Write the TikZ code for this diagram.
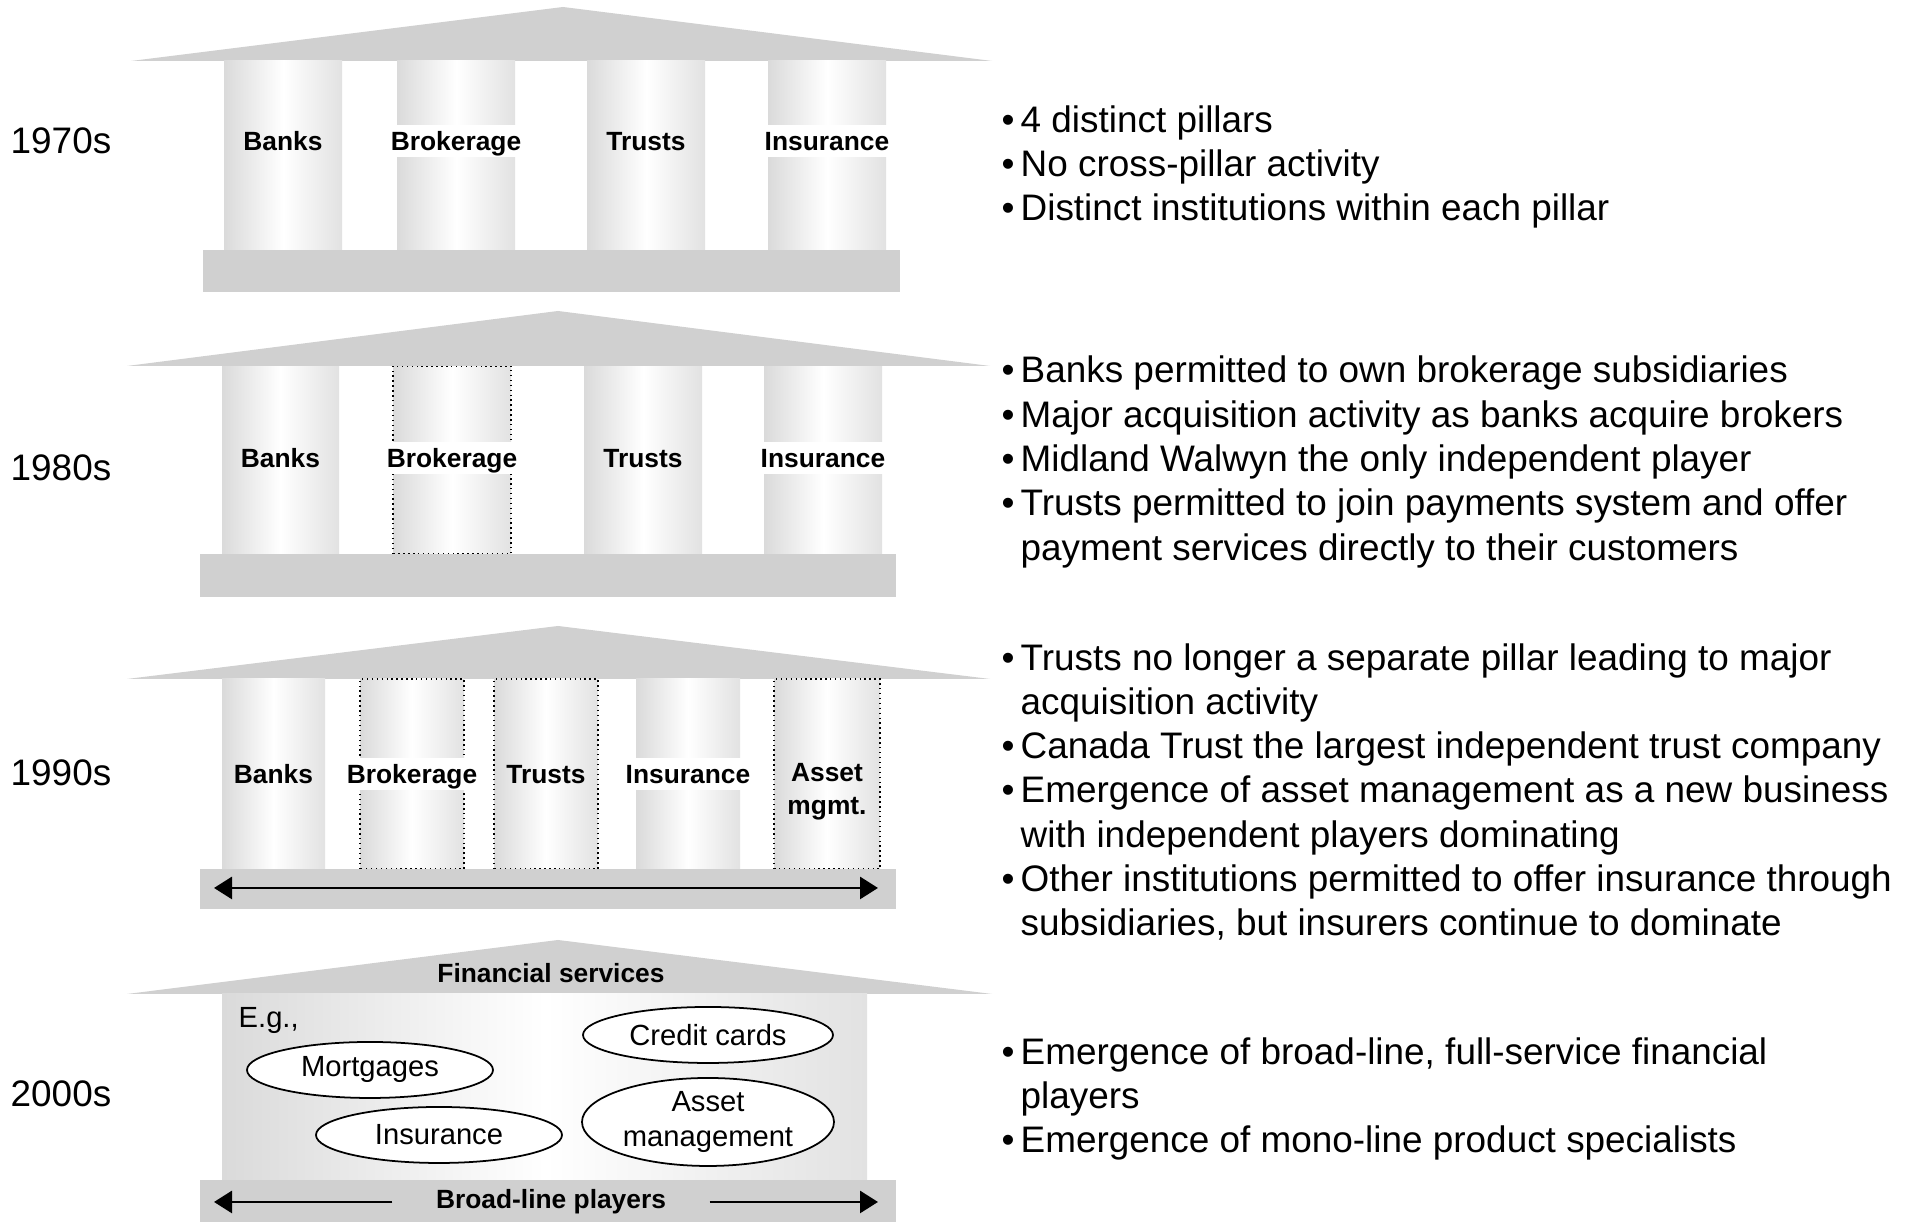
\documentclass[tikz,border=0pt]{standalone}
\usepackage{fontspec}
\setmainfont{Liberation Sans}
\usetikzlibrary{shapes.geometric,arrows.meta}
\definecolor{roofgray}{RGB}{208,208,208}
\definecolor{pilleft}{RGB}{218,218,218}
\definecolor{pilright}{RGB}{226,226,226}
\newcommand{\bitem}{\makebox[0.19cm][l]{•}}
\newcommand{\bcont}{\hspace*{0.19cm}}

\begin{document}
\begin{tikzpicture}[
  >={Triangle[length=0.18cm,width=0.22cm]},
  roof/.style={fill=roofgray},
  plinth/.style={fill=roofgray},
  pillar/.style={left color=pilleft, right color=pilright, middle color=white},
  newpillar/.style={pillar, draw=black, densely dotted, line width=0.4pt},
  lbl/.style={font=\fontsize{7.5}{9.4}\selectfont\bfseries, inner sep=0pt, align=center},
  plbl/.style={lbl, text height=1.9mm, text depth=0pt},
  plblw/.style={plbl, fill=white, minimum height=0.32cm},
  era/.style={anchor=west, inner sep=0pt, font=\fontsize{10.5}{12.6}\selectfont},
  notes/.style={anchor=west, inner sep=0pt, align=left, font=\fontsize{10.5}{12.6}\selectfont},
  prod/.style={ellipse, draw, fill=white, line width=0.5pt, inner sep=0pt, align=center, font=\fontsize{8.3}{10.2}\selectfont},
  span/.style={line width=0.8pt}
]
\useasboundingbox (0,0) rectangle (19.21,12.22);

% 1970s: four pillars
\fill[roof] (1.31,11.61) -- (5.63,12.15) -- (9.92,11.61) -- cycle;
\path[pillar] (2.24,9.72) rectangle (3.42,11.61);
\path[pillar] (3.97,9.72) rectangle (5.15,11.61);
\path[pillar] (5.87,9.72) rectangle (7.05,11.61);
\path[pillar] (7.68,9.72) rectangle (8.86,11.61);
\fill[plinth] (2.03,9.30) rectangle (9.00,9.72);
\node[plbl] (banks70) at (2.83,10.81) {Banks};
\node[plblw] (brok70) at (4.56,10.81) {Brokerage};
\node[plbl] (trusts70) at (6.46,10.81) {Trusts};
\node[plblw] (ins70) at (8.27,10.81) {Insurance};
\node[era] (yr70) at (0.10,10.81) {1970s};
\node[notes] (notes70) at (10.01,10.55) {\bitem 4 distinct pillars\\
  \bitem No cross-pillar activity\\
  \bitem Distinct institutions within each pillar};

% 1980s: brokerage opened to banks
\path[pillar] (2.22,6.68) rectangle (3.39,8.56);
\path[newpillar] (3.93,6.68) rectangle (5.11,8.56);
\path[pillar] (5.84,6.68) rectangle (7.02,8.56);
\path[pillar] (7.64,6.68) rectangle (8.82,8.56);
\fill[roof] (1.27,8.56) -- (5.58,9.11) -- (9.90,8.56) -- cycle;
\fill[plinth] (2.00,6.25) rectangle (8.96,6.68);
\node[plbl] (banks80) at (2.805,7.64) {Banks};
\node[plblw] (brok80) at (4.52,7.64) {Brokerage};
\node[plbl] (trusts80) at (6.43,7.64) {Trusts};
\node[plblw] (ins80) at (8.23,7.64) {Insurance};
\node[era] (yr80) at (0.10,7.54) {1980s};
\node[notes] (notes80) at (10.01,7.60) {\bitem Banks permitted to own brokerage subsidiaries\\
  \bitem Major acquisition activity as banks acquire brokers\\
  \bitem Midland Walwyn the only independent player\\
  \bitem Trusts permitted to join payments system and offer\\
  \bcont payment services directly to their customers};

% 1990s: five pillars on a shared base
\fill[roof] (1.27,5.43) -- (5.58,5.96) -- (9.90,5.43) -- cycle;
\path[pillar] (2.22,3.53) rectangle (3.25,5.43);
\path[newpillar] (3.60,3.53) rectangle (4.64,5.43);
\path[newpillar] (4.94,3.53) rectangle (5.98,5.43);
\path[pillar] (6.36,3.53) rectangle (7.40,5.43);
\path[newpillar] (7.74,3.53) rectangle (8.80,5.43);
\fill[plinth] (2.00,3.13) rectangle (8.96,3.53);
\node[plbl] (banks90) at (2.735,4.48) {Banks};
\node[plblw] (brok90) at (4.12,4.48) {Brokerage};
\node[plbl] (trusts90) at (5.46,4.48) {Trusts};
\node[plblw] (ins90) at (6.88,4.48) {Insurance};
\node[lbl] (asset90) at (8.27,4.30) {Asset\\mgmt.};
\coordinate (l90) at (2.14,3.34);
\coordinate (r90) at (8.78,3.34);
\draw[span,<->] (l90) -- (r90);
\node[era] (yr90) at (0.10,4.49) {1990s};
\node[notes] (notes90) at (10.01,4.30) {\bitem Trusts no longer a separate pillar leading to major\\
  \bcont acquisition activity\\
  \bitem Canada Trust the largest independent trust company\\
  \bitem Emergence of asset management as a new business\\
  \bcont with independent players dominating\\
  \bitem Other institutions permitted to offer insurance through\\
  \bcont subsidiaries, but insurers continue to dominate};

% 2000s: one house of financial services
\fill[roof] (1.27,2.28) -- (5.58,2.82) -- (9.92,2.28) -- cycle;
\path[pillar] (2.22,0.42) rectangle (8.67,2.28);
\fill[plinth] (2.00,0) rectangle (8.96,0.42);
\node[lbl] (fin00) at (5.51,2.49) {Financial services};
\node[anchor=west, inner sep=0pt, font=\fontsize{8.3}{10.2}\selectfont] (eg00) at (2.38,2.01) {E.g.,};
\node[prod, minimum width=2.46cm, minimum height=0.56cm] (mort00) at (3.70,1.52) {Mortgages};
\node[prod, minimum width=2.50cm, minimum height=0.56cm] (card00) at (7.08,1.87) {Credit cards};
\node[prod, minimum width=2.46cm, minimum height=0.56cm] (ins00) at (4.39,0.87) {Insurance};
\node[prod, minimum width=2.52cm, minimum height=0.88cm] (asset00) at (7.08,1.00) {Asset\\management};
\node[lbl] (players) at (5.51,0.20) {Broad-line players};
\coordinate (l00) at (2.14,0.20);
\coordinate (r00) at (8.78,0.20);
\draw[span,->,shorten <=0.43cm] (players) -- (l00);
\draw[span,->,shorten <=0.43cm] (players) -- (r00);
\node[era] (yr00) at (0.10,1.28) {2000s};
\node[notes] (notes00) at (10.01,1.23) {\bitem Emergence of broad-line, full-service financial\\
  \bcont players\\
  \bitem Emergence of mono-line product specialists};
\end{tikzpicture}
\end{document}
